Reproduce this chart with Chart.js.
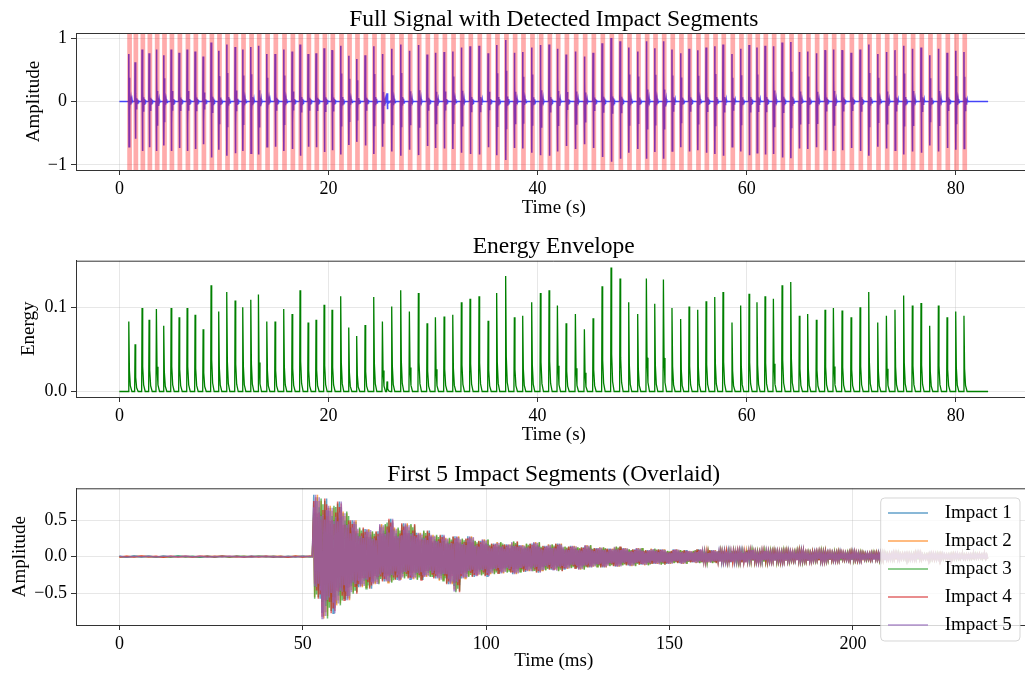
<!DOCTYPE html>
<html>
<head>
<meta charset="utf-8">
<script src="https://cdn.jsdelivr.net/npm/chart.js@4.4.1/dist/chart.umd.min.js"></script>
<style>
  html, body { margin: 0; padding: 0; background: #fff; overflow: hidden; width: 1025px; height: 673px; }
  canvas { position: absolute; left: 0; }
</style>
</head>
<body>
<canvas id="full" width="1040" height="222" style="top:0px"></canvas>
<canvas id="energy" width="1040" height="226" style="top:226px"></canvas>
<canvas id="segments" width="1040" height="219" style="top:454px"></canvas>
<script>
// detected impacts (s)
const impactTimes = [
  0.90, 1.50, 2.17, 2.84, 3.54, 4.24, 4.95, 5.71, 6.48, 7.24, 8.01, 8.77, 9.50, 10.27, 11.07, 11.80, 12.57, 13.30, 14.10, 14.89, 15.72, 16.52, 17.28, 18.05, 18.81, 19.58, 20.34,
  21.17, 21.94, 22.70, 23.50, 24.33, 25.16, 26.05, 26.91, 27.74, 28.60, 29.43, 30.23, 31.06, 31.89, 32.71, 33.54, 34.40, 35.27, 36.09, 36.95, 37.78, 38.58, 39.44, 40.27, 41.10,
  41.90, 42.73, 43.62, 44.48, 45.31, 46.17, 47.03, 47.89, 48.72, 49.58, 50.41, 51.21, 52.04, 52.86, 53.69, 54.49, 55.32, 56.12, 56.95, 57.74, 58.60, 59.43, 60.23, 60.99, 61.76, 62.56,
  63.39, 64.22, 65.04, 65.84, 66.67, 67.50, 68.30, 69.13, 69.99, 70.85, 71.68, 72.54, 73.37, 74.19, 75.02, 75.85, 76.68, 77.51, 78.34, 79.17, 80.00, 80.79
];
const impactEnergy = [
  0.083, 0.056, 0.099, 0.085, 0.098, 0.078, 0.099, 0.088, 0.099, 0.091, 0.074, 0.126, 0.095, 0.118, 0.108, 0.100, 0.109, 0.115, 0.083, 0.083, 0.098, 0.092, 0.120, 0.082, 0.085, 0.103, 0.097,
  0.113, 0.076, 0.066, 0.079, 0.112, 0.083, 0.101, 0.120, 0.095, 0.117, 0.081, 0.088, 0.089, 0.091, 0.106, 0.110, 0.113, 0.084, 0.117, 0.137, 0.088, 0.090, 0.106, 0.117, 0.120,
  0.102, 0.081, 0.092, 0.074, 0.087, 0.125, 0.147, 0.134, 0.106, 0.092, 0.134, 0.104, 0.133, 0.099, 0.086, 0.101, 0.097, 0.107, 0.112, 0.118, 0.082, 0.102, 0.116, 0.106, 0.113, 0.110,
  0.126, 0.130, 0.090, 0.092, 0.085, 0.097, 0.099, 0.096, 0.088, 0.100, 0.118, 0.082, 0.090, 0.097, 0.114, 0.102, 0.105, 0.078, 0.102, 0.088, 0.095, 0.090
];
const impactPeak = [
  0.75, 0.62, 0.82, 0.76, 0.82, 0.73, 0.82, 0.77, 0.82, 0.79, 0.71, 0.93, 0.80, 0.90, 0.86, 0.82, 0.86, 0.88, 0.75, 0.75, 0.82, 0.79, 0.90, 0.75, 0.76, 0.84, 0.81,
  0.88, 0.72, 0.67, 0.73, 0.87, 0.75, 0.83, 0.90, 0.80, 0.89, 0.74, 0.77, 0.78, 0.79, 0.85, 0.87, 0.88, 0.76, 0.89, 0.97, 0.77, 0.78, 0.85, 0.89, 0.90,
  0.83, 0.74, 0.79, 0.71, 0.77, 0.92, 1.00, 0.95, 0.85, 0.79, 0.95, 0.84, 0.95, 0.82, 0.76, 0.83, 0.81, 0.85, 0.87, 0.90, 0.75, 0.83, 0.89, 0.85, 0.88, 0.87,
  0.93, 0.94, 0.78, 0.79, 0.76, 0.81, 0.82, 0.81, 0.77, 0.82, 0.90, 0.75, 0.78, 0.81, 0.88, 0.83, 0.85, 0.73, 0.83, 0.77, 0.80, 0.78
];
// small undetected event near 25.6 s
const otherTimes = [25.60];
const otherEnergy = [0.012];
const otherPeak = [0.13];
const signalEnd = 83.1;

// first 5 segments (ms)
const impactLabels = ['Impact 1', 'Impact 2', 'Impact 3', 'Impact 4', 'Impact 5'];
const impactColors = ['rgba(31,119,180,0.7)', 'rgba(255,127,14,0.7)', 'rgba(44,160,44,0.7)', 'rgba(214,39,40,0.7)', 'rgba(148,103,189,0.7)'];
const preTimes = [0, 2, 4, 6, 8, 10, 12, 14, 16, 18, 20, 22, 24, 26, 28, 30, 32, 34, 36, 38, 40, 42, 44, 46, 48, 50, 52];
const preNoise = [0.004, -0.006, 0.008, -0.003, 0.005, -0.007, 0.006, -0.004, 0.009, -0.005, 0.003, -0.008, 0.006, -0.004,
  0.007, -0.006, 0.004, -0.005, 0.008, -0.003, 0.006, -0.007, 0.005, -0.004, 0.007, -0.005, 0.004];
const onsetMs = 52.6;
const segTimes = [
  53, 55, 57, 59, 61, 63, 65, 67, 69, 71,
  73, 75, 77, 79, 81, 83, 85, 87, 89, 91,
  93, 95, 97, 99, 101, 103, 105, 107, 109, 111,
  113, 115, 117, 119, 121, 123, 125, 127, 129, 131,
  133, 135, 137, 139, 141, 143, 145, 147, 149, 151,
  153, 155, 157, 159, 161, 163, 165, 167, 169, 171,
  173, 175, 177, 179, 181, 183, 185, 187, 189, 191,
  193, 195, 197, 199, 201, 203, 205, 207, 209, 211,
  213, 215, 217, 219, 221, 223, 225, 227, 229, 231,
  233, 235
];
const segTop = [
  0.85, 0.80, 0.70, 0.76, 0.62, 0.50, 0.40, 0.38, 0.35, 0.45,
  0.52, 0.40, 0.46, 0.45, 0.33, 0.36, 0.30, 0.30, 0.26, 0.28,
  0.25, 0.28, 0.22, 0.24, 0.18, 0.20, 0.17, 0.21, 0.16, 0.18,
  0.20, 0.15, 0.17, 0.18, 0.14, 0.15, 0.13, 0.16, 0.12, 0.13,
  0.11, 0.14, 0.12, 0.10, 0.12, 0.09, 0.11, 0.10, 0.08, 0.10,
  0.09, 0.08, 0.10, 0.07, 0.09, 0.08, 0.07, 0.08, 0.07, 0.09,
  0.06, 0.08, 0.07, 0.06, 0.07, 0.06, 0.08, 0.05, 0.06, 0.07,
  0.05, 0.06, 0.05, 0.06, 0.05, 0.04, 0.05, 0.05, 0.04, 0.05,
  0.04, 0.04, 0.05, 0.03, 0.04, 0.04, 0.03, 0.04, 0.03, 0.03,
  0.04, 0.03
];
const segBottom = [
  -0.58, -0.85, -0.78, -0.67, -0.60, -0.51, -0.42, -0.44, -0.38, -0.34,
  -0.36, -0.32, -0.30, -0.31, -0.32, -0.28, -0.30, -0.33, -0.38, -0.49,
  -0.30, -0.28, -0.26, -0.27, -0.24, -0.23, -0.22, -0.24, -0.21, -0.20,
  -0.22, -0.19, -0.18, -0.20, -0.17, -0.16, -0.18, -0.15, -0.14, -0.15,
  -0.13, -0.14, -0.12, -0.13, -0.11, -0.12, -0.10, -0.11, -0.10, -0.09,
  -0.10, -0.08, -0.09, -0.08, -0.09, -0.07, -0.08, -0.07, -0.08, -0.06,
  -0.07, -0.07, -0.06, -0.07, -0.06, -0.05, -0.06, -0.06, -0.05, -0.06,
  -0.05, -0.05, -0.04, -0.05, -0.05, -0.04, -0.04, -0.05, -0.04, -0.04,
  -0.03, -0.04, -0.04, -0.03, -0.04, -0.03, -0.03, -0.03, -0.03, -0.03,
  -0.02, -0.03
];
// how far each swing of an overlaid impact reaches into the band
const segSpread = [1.0, 0.72, 0.9, 0.64, 0.96, 0.8, 0.7];

// ---- shapes of one ring / one energy spike / one 2 ms band cell
const ringShape = [1, -0.95, 0.5, -0.45, 0.2, -0.18, 0.08, -0.07, 0.06, -0.05, 0.05, -0.04, 0.04, -0.03, 0.03, -0.02];
const ringStep = 0.022;
const spikeDt = [-0.04, 0, 0.06, 0.15, 0.3];
const spikeK = [0, 1, 0.3, 0.08, 0];
const cellDt = [0, 0.25, 0.5, 0.75, 1, 1.25, 1.5, 1.75];

Chart.defaults.font.family = "'Liberation Serif', 'Times New Roman', serif";
Chart.defaults.color = '#000';
Chart.defaults.animation = false;

const gridColor = 'rgba(176,176,176,0.3)';
const spineColor = '#333';

function fixedTicks(values) {
  return scale => { scale.ticks = values.map(v => ({ value: v })); };
}
function fmt(d) {
  return v => Number(v).toFixed(d).replace('-', '\u2212');
}
function xAxis(min, max, ticks, title, height, titlePad) {
  return {
    type: 'linear', min, max,
    afterBuildTicks: fixedTicks(ticks),
    afterFit: s => { s.height = height; },
    grid: { color: gridColor, tickColor: spineColor, tickLength: 5 },
    border: { color: spineColor, width: 1, z: 1 },
    ticks: { font: { size: 18 }, padding: 3, maxRotation: 0, callback: fmt(0) },
    title: { display: true, text: title, font: { size: 19 }, padding: { top: 0, bottom: titlePad } }
  };
}
function yAxis(min, max, ticks, decimals, title, titlePad) {
  return {
    type: 'linear', min, max,
    afterBuildTicks: fixedTicks(ticks),
    afterFit: s => { s.width = 76; },
    grid: { color: gridColor, tickColor: spineColor, tickLength: 5 },
    border: { color: spineColor, width: 1, z: 1 },
    ticks: { font: { size: 18 }, padding: 4, callback: fmt(decimals) },
    title: { display: true, text: title, font: { size: 19 }, padding: { top: titlePad, bottom: 0 } }
  };
}

// top spine + title centred over the axes, legend for the last panel
const framePlugin = {
  id: 'frame',
  afterDraw(chart, args, opts) {
    const { ctx, chartArea: a } = chart;
    ctx.save();
    ctx.strokeStyle = spineColor;
    ctx.lineWidth = 1;
    ctx.beginPath();
    ctx.moveTo(a.left, a.top + 0.5);
    ctx.lineTo(a.right, a.top + 0.5);
    ctx.moveTo(a.right - 0.5, a.top);
    ctx.lineTo(a.right - 0.5, a.bottom);
    ctx.stroke();
    ctx.fillStyle = '#000';
    ctx.font = "23.5px 'Liberation Serif', 'Times New Roman', serif";
    ctx.textAlign = 'center';
    ctx.textBaseline = 'middle';
    ctx.fillText(opts.title, (a.left + a.right) / 2, a.top - 13.5);
    if (opts.legend) {
      const bx = a.right - 150.8, by = a.top + 9.7, bw = 139.3, bh = 143;
      ctx.beginPath();
      ctx.roundRect(bx, by, bw, bh, 4);
      ctx.fillStyle = 'rgba(255,255,255,0.8)';
      ctx.fill();
      ctx.strokeStyle = 'rgba(204,204,204,0.8)';
      ctx.stroke();
      ctx.font = "19px 'Liberation Serif', 'Times New Roman', serif";
      ctx.textAlign = 'left';
      chart.data.datasets.forEach((ds, i) => {
        const y = by + 15 + 28 * i;
        ctx.strokeStyle = ds.borderColor;
        ctx.lineWidth = 1.5;
        ctx.beginPath();
        ctx.moveTo(bx + 7.3, y);
        ctx.lineTo(bx + 47.3, y);
        ctx.stroke();
        ctx.fillStyle = '#000';
        ctx.fillText(ds.label, bx + 64, y);
      });
    }
    ctx.restore();
  }
};

// red impact windows, drawn over the signal like axvspan
const spanPlugin = {
  id: 'spans',
  afterDatasetsDraw(chart, args, opts) {
    if (!opts.times) return;
    const { ctx, chartArea: a, scales: { x } } = chart;
    ctx.save();
    ctx.fillStyle = 'rgba(255,0,0,0.33)';
    opts.times.forEach(t => {
      const x0 = x.getPixelForValue(t - opts.before);
      const x1 = x.getPixelForValue(t + opts.after);
      ctx.fillRect(x0, a.top, x1 - x0, a.bottom - a.top);
    });
    ctx.restore();
  }
};
Chart.register(framePlugin, spanPlugin);

// ---- panel 1: full signal
const events = impactTimes.map((t, i) => ({ t, a: impactPeak[i], e: impactEnergy[i] }))
  .concat(otherTimes.map((t, i) => ({ t, a: otherPeak[i], e: otherEnergy[i] })))
  .sort((p, q) => p.t - q.t);

const signalPts = [{ x: 0, y: 0 }];
events.forEach(ev => {
  signalPts.push({ x: ev.t - 0.02, y: 0 });
  ringShape.forEach((k, j) => signalPts.push({ x: ev.t + j * ringStep, y: k * ev.a }));
  signalPts.push({ x: ev.t + ringShape.length * ringStep, y: 0 });
});
signalPts.push({ x: signalEnd, y: 0 });

new Chart(document.getElementById('full'), {
  type: 'line',
  data: { datasets: [{ data: signalPts, borderColor: 'rgba(0,0,255,0.7)', borderWidth: 1.6, pointRadius: 0, tension: 0 }] },
  options: {
    responsive: false, devicePixelRatio: 1, parsing: false, normalized: true,
    layout: { padding: { top: 33, right: 8.5, bottom: 0, left: 0 } },
    plugins: {
      legend: { display: false }, tooltip: { enabled: false },
      frame: { title: 'Full Signal with Detected Impact Segments' },
      spans: { times: impactTimes, before: 0.15, after: 0.3 }
    },
    scales: {
      x: xAxis(-4.15, 87.25, [0, 20, 40, 60, 80], 'Time (s)', 52, 2.6),
      y: yAxis(-1.08, 1.08, [-1, 0, 1], 0, 'Amplitude', 23)
    }
  }
});

// ---- panel 2: energy envelope
const energyPts = [{ x: 0, y: 0 }];
events.forEach(ev => {
  spikeDt.forEach((dt, j) => energyPts.push({ x: ev.t + dt, y: spikeK[j] * ev.e }));
});
energyPts.push({ x: signalEnd, y: 0 });

new Chart(document.getElementById('energy'), {
  type: 'line',
  data: { datasets: [{ data: energyPts, borderColor: '#008000', borderWidth: 1.3, pointRadius: 0, tension: 0 }] },
  options: {
    responsive: false, devicePixelRatio: 1, parsing: false, normalized: true,
    layout: { padding: { top: 34.7, right: 8.5, bottom: 0, left: 0 } },
    plugins: {
      legend: { display: false }, tooltip: { enabled: false },
      frame: { title: 'Energy Envelope' }
    },
    scales: {
      x: xAxis(-4.15, 87.25, [0, 20, 40, 60, 80], 'Time (s)', 55, 5.6),
      y: yAxis(-0.0065, 0.1552, [0, 0.1], 1, 'Energy', 18)
    }
  }
});

// ---- panel 3: first five segments overlaid, later impacts drawn on top (order 0 = topmost)
const segDatasets = impactLabels.map((label, k) => {
  const pts = preTimes.map((t, i) => ({ x: t, y: preNoise[(i + 5 * k) % preNoise.length] }));
  pts.push({ x: onsetMs, y: 0 });
  segTimes.forEach((t, i) => {
    cellDt.forEach((dt, j) => {
      const g = segSpread[(i * cellDt.length + j + 3 * k) % segSpread.length];
      const v = j % 2 === 0 ? segTop[i] : segBottom[i];
      pts.push({ x: t + dt, y: v * g });
    });
  });
  return {
    label, data: pts, order: impactLabels.length - 1 - k,
    borderColor: impactColors[k], borderWidth: 1.5, pointRadius: 0, tension: 0
  };
});

new Chart(document.getElementById('segments'), {
  type: 'line',
  data: { datasets: segDatasets },
  options: {
    responsive: false, devicePixelRatio: 1, parsing: false, normalized: true,
    layout: { padding: { top: 34.3, right: 8.5, bottom: 0, left: 0 } },
    plugins: {
      legend: { display: false }, tooltip: { enabled: false },
      frame: { title: 'First 5 Impact Segments (Overlaid)', legend: true }
    },
    scales: {
      x: xAxis(-11.83, 248.7, [0, 50, 100, 150, 200], 'Time (ms)', 48, 0.6),
      y: yAxis(-0.94, 0.94, [-0.5, 0, 0.5], 1, 'Amplitude', 8.6)
    }
  }
});
</script>
</body>
</html>
